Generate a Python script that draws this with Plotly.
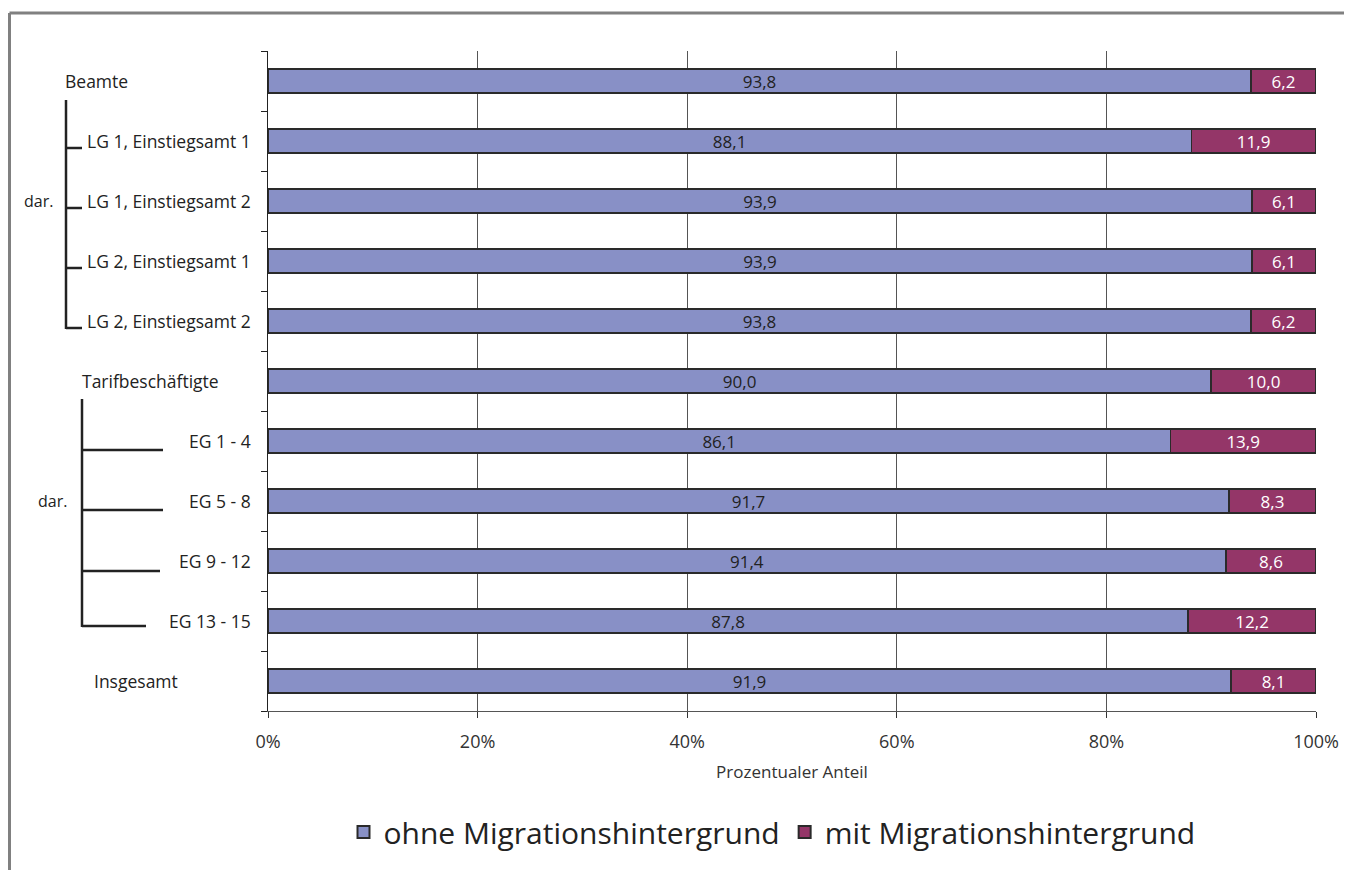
import plotly.graph_objects as go

categories = ["Beamte", "LG 1, Einstiegsamt 1", "LG 1, Einstiegsamt 2", "LG 2, Einstiegsamt 1",
              "LG 2, Einstiegsamt 2", "Tarifbeschäftigte", "EG 1 - 4", "EG 5 - 8", "EG 9 - 12",
              "EG 13 - 15", "Insgesamt"]
ohne = [93.8, 88.1, 93.9, 93.9, 93.8, 90.0, 86.1, 91.7, 91.4, 87.8, 91.9]
mit = [6.2, 11.9, 6.1, 6.1, 6.2, 10.0, 13.9, 8.3, 8.6, 12.2, 8.1]
x_ticks = [0, 20, 40, 60, 80, 100]
x_ticktext = ["0%", "20%", "40%", "60%", "80%", "100%"]
series_names = ["ohne Migrationshintergrund", "mit Migrationshintergrund"]

FONT = "Open Sans"
OFF = 8  # default page body margin
W, H = 1352 - OFF, 870 - OFF
L, R, T, B = 268 - OFF, 1316 - OFF, 51 - OFF, 711 - OFF

def px_x(px):
    return (px - OFF - L) / (R - L)

def px_y(py):
    return (B - (py - OFF)) / (B - T)

def fmt(v):
    return f"{v:.1f}".replace(".", ",")

idx = list(range(len(categories)))

fig = go.Figure()
fig.add_trace(go.Bar(
    y=idx, x=ohne, orientation="h", name=series_names[0],
    marker=dict(color="#8890C6", line=dict(color="#2a2a2a", width=1.5)),
    text=[fmt(v) for v in ohne], textposition="inside", insidetextanchor="middle",
    constraintext="none",
    textfont=dict(color="#222222", size=17, family=FONT), width=0.4,
    hoverinfo="skip"))
fig.add_trace(go.Bar(
    y=idx, x=mit, orientation="h", name=series_names[1],
    marker=dict(color="#943668", line=dict(color="#2a2a2a", width=1.5)),
    text=[fmt(v) for v in mit], textposition="inside", insidetextanchor="middle",
    constraintext="none",
    textfont=dict(color="#ffffff", size=17, family=FONT), width=0.4,
    hoverinfo="skip"))

annotations = []
label_pos = [(0, 63, "left"), (1, 253, "right"), (2, 253, "right"), (3, 253, "right"),
             (4, 253, "right"), (5, 80, "left"), (6, 253, "right"), (7, 253, "right"),
             (8, 253, "right"), (9, 253, "right"), (10, 92, "left")]
for i, xpx, anc in label_pos:
    annotations.append(dict(xref="paper", yref="y", x=px_x(xpx), y=i, text=categories[i],
                            showarrow=False, xanchor=anc, yanchor="middle",
                            font=dict(size=17.5, color="#222222", family=FONT)))
for i, xpx in ((2, 22), (7, 36)):
    annotations.append(dict(xref="paper", yref="y", x=px_x(xpx), y=i, text="dar.",
                            showarrow=False, xanchor="left", yanchor="middle",
                            font=dict(size=16, color="#222222", family=FONT)))

shapes = []
def line(x0, y0, x1, y1, color="#222222", width=2.5):
    shapes.append(dict(type="line", xref="paper", yref="paper",
                       x0=px_x(x0), y0=px_y(y0), x1=px_x(x1), y1=px_y(y1),
                       line=dict(color=color, width=width)))

# Beamte bracket
line(66, 100, 66, 329)
for yy in (148, 208, 268, 328):
    line(66, yy, 82, yy)
# Tarif bracket
line(82, 399, 82, 627)
for yy, xe in ((450, 163), (510, 163), (571, 160), (626, 146)):
    line(82, yy, xe, yy)
# outer frame (top and left)
line(9.5, 13, 1352, 13, color="#808080", width=3)
line(9.5, 13, 9.5, 870, color="#808080", width=3)

fig.update_layout(
    width=W, height=H,
    margin=dict(l=L, r=W - R, t=T, b=H - B),
    paper_bgcolor="white", plot_bgcolor="white",
    barmode="stack", bargap=0.6,
    font=dict(family=FONT, color="#222222"),
    showlegend=True,
    legend=dict(orientation="h", x=px_x(772), y=px_y(832), xanchor="center", yanchor="middle",
                font=dict(size=30, family=FONT, color="#222222"),
                itemsizing="constant", traceorder="normal"),
    annotations=annotations, shapes=shapes,
)
fig.update_xaxes(range=[0, 100], tickvals=x_ticks, ticktext=x_ticktext,
                 ticks="outside", ticklen=6, tickcolor="#333333",
                 showline=True, linecolor="#555555", linewidth=1,
                 showgrid=True, gridcolor="#555555", gridwidth=1, zeroline=False,
                 ticklabelstandoff=8,
                 tickfont=dict(size=18, color="#333333", family=FONT),
                 title=dict(text="Prozentualer Anteil", font=dict(size=17, color="#333333", family=FONT),
                            standoff=14))
fig.update_yaxes(range=[len(categories) - 0.5, -0.5],
                 tickvals=[i - 0.5 for i in range(len(categories) + 1)],
                 showticklabels=False, ticks="outside", ticklen=6, tickcolor="#222222",
                 showline=True, linecolor="#222222", linewidth=1,
                 showgrid=False, zeroline=False)

fig.write_html("out.html")
